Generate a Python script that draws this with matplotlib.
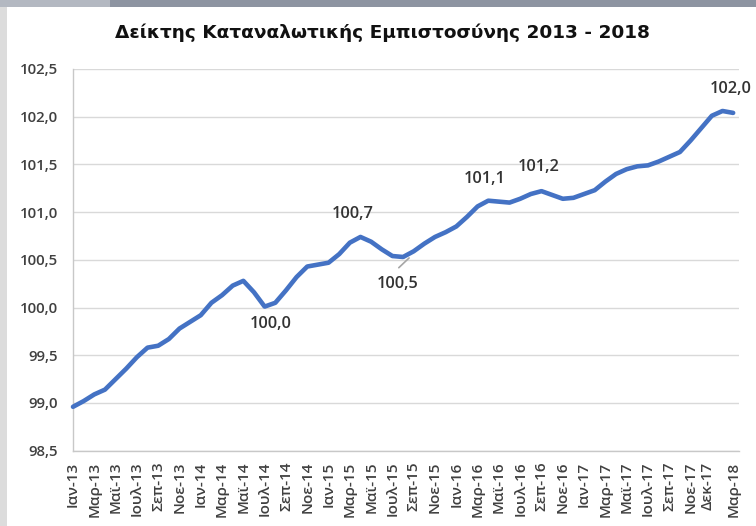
import matplotlib
matplotlib.use("Agg")
import matplotlib.pyplot as plt
from matplotlib.patches import Rectangle
from matplotlib.transforms import offset_copy
import numpy as np

title = "Δείκτης Καταναλωτικής Εμπιστοσύνης 2013 - 2018"

# monthly index values, Jan-2013 .. Mar-2018
values_2013 = [98.96, 99.02, 99.09, 99.14, 99.25, 99.36, 99.48, 99.58, 99.60, 99.67, 99.78, 99.85]
values_2014 = [99.92, 100.05, 100.13, 100.23, 100.28, 100.16, 100.01, 100.05, 100.18, 100.32, 100.43, 100.45]
values_2015 = [100.47, 100.56, 100.68, 100.74, 100.69, 100.61, 100.54, 100.53, 100.59, 100.67, 100.74, 100.79]
values_2016 = [100.85, 100.95, 101.06, 101.12, 101.11, 101.10, 101.14, 101.19, 101.22, 101.18, 101.14, 101.15]
values_2017 = [101.19, 101.23, 101.32, 101.40, 101.45, 101.48, 101.49, 101.53, 101.58, 101.63, 101.75, 101.88]
values_2018 = [102.01, 102.06, 102.04]
values = values_2013 + values_2014 + values_2015 + values_2016 + values_2017 + values_2018

tick_labels = ["Ιαν-13", "Μαρ-13", "Μαϊ-13", "Ιουλ-13", "Σεπ-13", "Νοε-13",
               "Ιαν-14", "Μαρ-14", "Μαϊ-14", "Ιουλ-14", "Σεπ-14", "Νοε-14",
               "Ιαν-15", "Μαρ-15", "Μαϊ-15", "Ιουλ-15", "Σεπ-15", "Νοε-15",
               "Ιαν-16", "Μαρ-16", "Μαϊ-16", "Ιουλ-16", "Σεπ-16", "Νοε-16",
               "Ιαν-17", "Μαρ-17", "Μαϊ-17", "Ιουλ-17", "Σεπ-17", "Νοε-17",
               "Δεκ-17", "Μαρ-18"]
tick_positions = list(range(0, 60, 2)) + [59.6, 62]

yticks = [98.5, 99.0, 99.5, 100.0, 100.5, 101.0, 101.5, 102.0, 102.5]

label_points = [18, 27, 31, 39, 44, 62]
label_texts = ["100,0", "100,7", "100,5", "101,1", "101,2", "102,0"]
label_offsets_px = [(6, -17), (-8, 23), (-5, -27), (-3.5, 22), (-3, 24), (-2, 24)]

W, H, DPI = 756, 526, 100
fig = plt.figure(figsize=(W / DPI, H / DPI), dpi=DPI, facecolor="white")

# decorative frame bands
fig.add_artist(Rectangle((0, 1 - 7 / H), 1, 7 / H, transform=fig.transFigure,
                         color="#8d94a1", zorder=0, lw=0))
fig.add_artist(Rectangle((0, 1 - 7 / H), 110 / W, 7 / H, transform=fig.transFigure,
                         color="#b3b8c1", zorder=0, lw=0))
fig.add_artist(Rectangle((0, 0), 7 / W, 1 - 7 / H, transform=fig.transFigure,
                         color="#dcdcdc", zorder=0, lw=0))

left, right = 73 / W, 739 / W
bottom, top = 1 - 450.7 / H, 1 - 69 / H
ax = fig.add_axes([left, bottom, right - left, top - bottom])

x = np.arange(len(values))
ax.plot(x, values, color="#4472C4", lw=3.3, solid_joinstyle="round", solid_capstyle="round",
        zorder=3, clip_on=False)

ax.set_xlim(0, 62.55)
ax.set_ylim(98.5, 102.5)
ax.set_yticks(yticks)
ax.set_yticklabels([f"{v:.1f}".replace(".", ",") for v in yticks])
ax.set_xticks(tick_positions)
ax.set_xticklabels(tick_labels, rotation=90)

ax.grid(axis="y", color="#d9d9d9", lw=1.0, zorder=0)
ax.set_axisbelow(True)
for s in ["top", "right"]:
    ax.spines[s].set_visible(False)
ax.spines["left"].set_color("#c8c8c8")
ax.spines["bottom"].set_color("#c8c8c8")
ax.spines["left"].set_linewidth(1.0)
ax.spines["bottom"].set_linewidth(1.0)

ax.tick_params(axis="y", length=0, pad=11, labelsize=10.8, labelcolor="#404040")
ax.tick_params(axis="x", length=0, pad=8, labelsize=11, labelcolor="#404040")
for lab in ax.get_yticklabels() + ax.get_xticklabels():
    lab.set_fontfamily(["Open Sans", "DejaVu Sans"])
    lab.set_fontweight("semibold")

for idx, txt, (dx, dy) in zip(label_points, label_texts, label_offsets_px):
    ax.annotate(txt, xy=(idx, values[idx]), xytext=(dx * 0.72, dy * 0.72),
                textcoords="offset points", ha="center", va="center",
                fontsize=11.8, color="#333333", family=["Open Sans", "DejaVu Sans"],
                fontweight="semibold", annotation_clip=False)
    if txt == "100,5":
        # leader line from the label towards the curve
        target = offset_copy(ax.transData, fig=fig, x=6, y=-1, units="dots")
        ax.annotate("", xy=(idx, values[idx]), xycoords=target,
                    xytext=(-7.4, -7.0), textcoords="offset points",
                    arrowprops=dict(arrowstyle="-", color="#a6a6a6", lw=1.2,
                                    shrinkA=0, shrinkB=0), annotation_clip=False)

fig.text(382 / W, 1 - 33 / H, title, ha="center", va="center", fontsize=13.3,
         fontweight="bold", color="#111111", family=["DejaVu Sans"])

fig.savefig("out.png", dpi=DPI, facecolor="white")
